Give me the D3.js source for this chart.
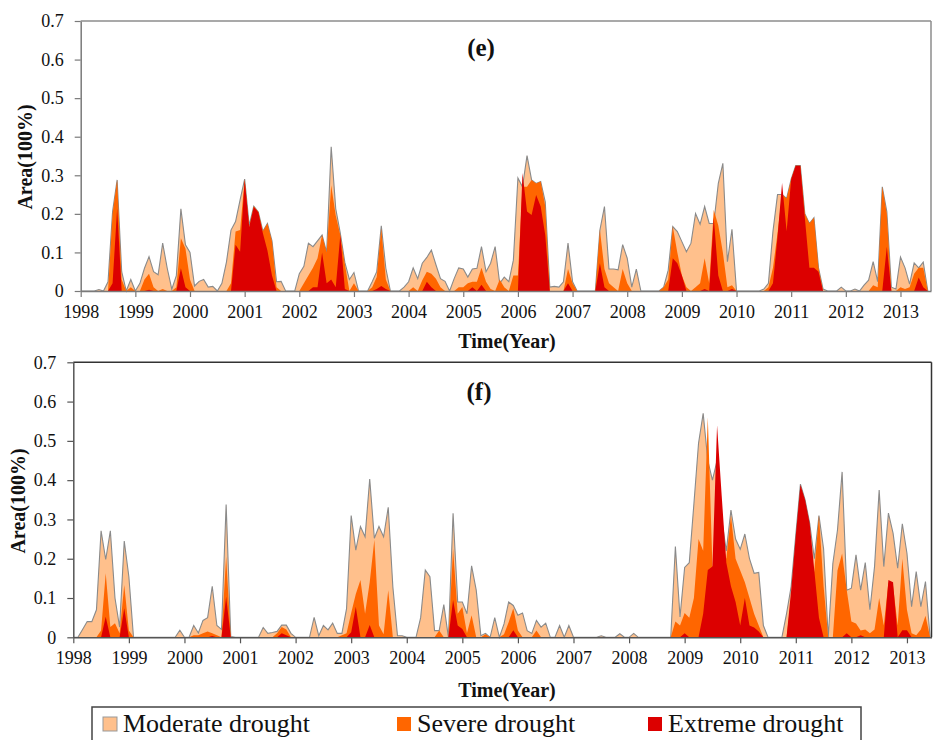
<!DOCTYPE html>
<html>
<head>
<meta charset="utf-8">
<script src="https://cdn.jsdelivr.net/npm/d3@7"></script>
<style>
  body { margin: 0; background: #fff; }
  svg { display: block; }
  svg text { font-family: "Liberation Serif", "Times New Roman", serif !important; fill: #111; }
</style>
</head>
<body>
<svg id="chart" width="933" height="740"></svg>
<script>
// Year ticks and area ticks shared by both panels
const yearTicks = d3.range(1998, 2014);
const areaTicks = [0, 0.1, 0.2, 0.3, 0.4, 0.5, 0.6, 0.7];
const seriesNames = ["Moderate drought", "Severe drought", "Extreme drought"];
const seriesColors = ["#FFC08C", "#FF6600", "#DC0000"];

// Panel (e): monthly drought area fraction, Jan 1998 onwards (one row per year)
const moderateE = [
  0, 0, 0, 0, 0.004, 0, 0.024, 0.206, 0.288, 0.05, 0, 0.03,
  0, 0.02, 0.059, 0.089, 0.05, 0.042, 0.124, 0.059, 0.005, 0.04, 0.213, 0.12,
  0.10, 0.013, 0.025, 0.03, 0.01, 0.012, 0, 0.02, 0.075, 0.158, 0.18, 0.236,
  0.29, 0.17, 0.22, 0.205, 0.155, 0.175, 0.13, 0.024, 0.025, 0, 0, 0,
  0.045, 0.064, 0.124, 0.115, 0.13, 0.145, 0.10, 0.374, 0.213, 0.15, 0.074, 0.03,
  0.048, 0, 0, 0, 0.024, 0.05, 0.169, 0.059, 0, 0, 0, 0.01,
  0.024, 0.06, 0.032, 0.072, 0.087, 0.106, 0.068, 0.032, 0.025, 0, 0.032, 0.06,
  0.057, 0.036, 0.057, 0.059, 0.115, 0.05, 0.072, 0.115, 0.02, 0.036, 0.024, 0.08,
  0.293, 0.27, 0.351, 0.288, 0.279, 0.284, 0.231, 0.01, 0.012, 0.01, 0.024, 0.124,
  0.024, 0, 0, 0, 0, 0, 0.158, 0.219, 0.057, 0.057, 0.055, 0.12,
  0.085, 0.01, 0.057, 0, 0, 0, 0, 0, 0.01, 0.054, 0.167, 0.154,
  0.128, 0.102, 0.124, 0.201, 0.173, 0.219, 0.175, 0.175, 0.279, 0.331, 0.076, 0.16,
  0, 0, 0, 0, 0, 0, 0.005, 0.02, 0.155, 0.25, 0.25, 0.24,
  0.29, 0.325, 0.325, 0.2, 0.175, 0.19, 0.06, 0.005, 0, 0, 0, 0.01,
  0, 0, 0.005, 0, 0.015, 0.028, 0.076, 0.024, 0.27, 0.206, 0.01, 0.005,
  0.088, 0.06, 0.018, 0.073, 0.06, 0.075, 0
];
const severeE = [
  0, 0, 0, 0, 0, 0, 0, 0.2, 0.288, 0.03, 0, 0.01,
  0, 0, 0.03, 0.045, 0.01, 0, 0.005, 0, 0, 0.01, 0.137, 0.11,
  0.03, 0, 0, 0, 0, 0, 0, 0, 0, 0.02, 0.154, 0.158,
  0.29, 0.165, 0.22, 0.205, 0.155, 0.175, 0.129, 0.01, 0, 0, 0, 0,
  0, 0.02, 0.04, 0.06, 0.085, 0.145, 0.10, 0.274, 0.196, 0.145, 0.07, 0,
  0.02, 0, 0, 0, 0.01, 0.036, 0.162, 0.03, 0, 0, 0, 0,
  0, 0.01, 0, 0.028, 0.05, 0.045, 0.032, 0.01, 0, 0, 0, 0.01,
  0.01, 0.02, 0.024, 0.024, 0.06, 0.024, 0.005, 0, 0.03, 0.01, 0, 0.04,
  0.04, 0.27, 0.27, 0.288, 0.279, 0.284, 0.22, 0, 0, 0, 0, 0.057,
  0.02, 0, 0, 0, 0, 0, 0.158, 0.057, 0.02, 0.01, 0, 0.057,
  0.02, 0, 0, 0, 0, 0, 0, 0, 0.01, 0.03, 0.167, 0.1,
  0.04, 0.01, 0, 0.01, 0.02, 0.085, 0.02, 0.21, 0.17, 0.1, 0.01, 0.015,
  0, 0, 0, 0, 0, 0, 0, 0.01, 0.06, 0.15, 0.25, 0.24,
  0.29, 0.325, 0.325, 0.2, 0.175, 0.19, 0.06, 0, 0, 0, 0, 0,
  0, 0, 0, 0, 0, 0, 0.015, 0.01, 0.27, 0.2, 0, 0,
  0.01, 0.005, 0.01, 0.045, 0.06, 0.06, 0
];
const extremeE = [
  0, 0, 0, 0, 0, 0, 0, 0.02, 0.214, 0, 0, 0,
  0, 0, 0, 0.003, 0, 0, 0, 0, 0, 0, 0.059, 0.01,
  0, 0, 0, 0, 0, 0, 0, 0, 0, 0, 0.12, 0.102,
  0.288, 0.166, 0.218, 0.204, 0.15, 0.105, 0.04, 0, 0, 0, 0, 0,
  0, 0, 0, 0.01, 0.01, 0.10, 0.02, 0.03, 0.01, 0.145, 0.005, 0,
  0, 0, 0, 0, 0, 0.005, 0.013, 0.005, 0, 0, 0, 0,
  0, 0, 0, 0, 0.024, 0.01, 0, 0, 0, 0, 0, 0,
  0, 0, 0.01, 0, 0.016, 0, 0, 0, 0, 0, 0, 0,
  0, 0.306, 0.206, 0.197, 0.249, 0.219, 0.145, 0, 0, 0, 0, 0.02,
  0, 0, 0, 0, 0, 0, 0.072, 0.01, 0, 0, 0, 0,
  0, 0, 0, 0, 0, 0, 0, 0, 0, 0, 0.085, 0.072,
  0.04, 0, 0, 0, 0, 0.005, 0, 0.19, 0.04, 0, 0, 0.005,
  0, 0, 0, 0, 0, 0, 0, 0, 0.02, 0.14, 0.28, 0.155,
  0.29, 0.325, 0.325, 0.19, 0.06, 0.06, 0.05, 0, 0, 0, 0, 0,
  0, 0, 0, 0, 0, 0, 0, 0, 0, 0.115, 0, 0,
  0, 0, 0, 0, 0.035, 0.01, 0
];

// Panel (f): monthly drought area fraction, Jan 1998 onwards (one row per year)
const moderateF = [
  0, 0, 0.02, 0.04, 0.04, 0.07, 0.271, 0.198, 0.271, 0.10, 0.026, 0.245,
  0.154, 0, 0, 0, 0, 0, 0, 0, 0, 0, 0, 0.018,
  0, 0, 0.03, 0.011, 0.043, 0.05, 0.13, 0.03, 0.02, 0.338, 0.002, 0,
  0, 0, 0, 0, 0, 0.025, 0.01, 0.012, 0.015, 0.031, 0.031, 0.01,
  0, 0, 0, 0, 0.051, 0.004, 0.03, 0.019, 0.036, 0.01, 0.01, 0.073,
  0.31, 0.222, 0.282, 0.256, 0.403, 0.252, 0.282, 0.256, 0.331, 0.128, 0.004, 0.004,
  0, 0, 0, 0.05, 0.171, 0.154, 0.017, 0.017, 0.083, 0, 0.316, 0.09,
  0.09, 0.06, 0.182, 0.12, 0.004, 0.01, 0, 0.05, 0, 0.034, 0.09, 0.081,
  0.056, 0.062, 0.017, 0.01, 0.043, 0.026, 0.036, 0, 0, 0.03, 0, 0.03,
  0, 0, 0, 0, 0, 0, 0.004, 0, 0, 0, 0.009, 0,
  0, 0.01, 0, 0, 0, 0, 0, 0, 0, 0, 0.231, 0.052,
  0.178, 0.19, 0.34, 0.494, 0.57, 0.45, 0.4, 0.45, 0.3, 0.22, 0.324, 0.25,
  0.224, 0.263, 0.2, 0.163, 0.165, 0.03, 0, 0, 0, 0, 0.06, 0.13,
  0.26, 0.39, 0.35, 0.29, 0.2, 0.31, 0.225, 0, 0.188, 0.273, 0.421, 0.12,
  0.125, 0.21, 0.12, 0.19, 0.07, 0.18, 0.375, 0.18, 0.316, 0.265, 0.176, 0.289,
  0.214, 0.078, 0.167, 0.078, 0.142, 0
];
const severeF = [
  0, 0, 0, 0, 0, 0, 0.017, 0.163, 0.026, 0.036, 0.01, 0.133,
  0.017, 0, 0, 0, 0, 0, 0, 0, 0, 0, 0, 0,
  0, 0, 0.005, 0.005, 0.01, 0.015, 0.01, 0.005, 0, 0.205, 0, 0,
  0, 0, 0, 0, 0, 0, 0, 0, 0.01, 0.026, 0.02, 0,
  0, 0, 0, 0, 0, 0, 0, 0, 0, 0, 0.005, 0.01,
  0.062, 0.11, 0.146, 0.06, 0.14, 0.248, 0.03, 0.008, 0.12, 0, 0, 0,
  0, 0, 0, 0, 0, 0, 0, 0.017, 0, 0, 0.225, 0.06,
  0.077, 0.01, 0.056, 0, 0, 0.008, 0, 0, 0, 0.008, 0.038, 0.074,
  0.017, 0, 0, 0, 0.017, 0, 0, 0, 0, 0, 0, 0,
  0, 0, 0, 0, 0, 0, 0, 0, 0, 0, 0, 0,
  0, 0, 0, 0, 0, 0, 0, 0, 0, 0, 0.04, 0.03,
  0.062, 0.05, 0.1, 0.25, 0.22, 0.56, 0.18, 0.2, 0.25, 0.2, 0.31, 0.2,
  0.17, 0.14, 0.1, 0.06, 0.03, 0, 0, 0, 0, 0, 0, 0.1,
  0.1, 0.1, 0.1, 0.1, 0.17, 0.31, 0.13, 0, 0, 0.17, 0.213, 0.12,
  0.04, 0.035, 0.017, 0.02, 0.01, 0.02, 0.1, 0.03, 0.14, 0.13, 0.03, 0.2,
  0.07, 0.01, 0.005, 0.02, 0.055, 0
];
const extremeF = [
  0, 0, 0, 0, 0, 0, 0, 0.052, 0, 0, 0, 0.074,
  0, 0, 0, 0, 0, 0, 0, 0, 0, 0, 0, 0,
  0, 0, 0, 0, 0, 0, 0.003, 0, 0, 0.103, 0, 0,
  0, 0, 0, 0, 0, 0, 0, 0, 0, 0.01, 0.005, 0,
  0, 0, 0, 0, 0, 0, 0, 0, 0, 0, 0, 0,
  0.013, 0.078, 0, 0, 0.031, 0, 0, 0, 0, 0, 0, 0,
  0, 0, 0, 0, 0, 0, 0, 0, 0, 0, 0.095, 0.03,
  0.021, 0, 0, 0, 0, 0, 0, 0, 0, 0, 0, 0.018,
  0, 0, 0, 0, 0, 0, 0, 0, 0, 0, 0, 0,
  0, 0, 0, 0, 0, 0, 0, 0, 0, 0, 0, 0,
  0, 0, 0, 0, 0, 0, 0, 0, 0, 0, 0, 0,
  0.01, 0, 0, 0, 0.06, 0.171, 0.18, 0.54, 0.36, 0.19, 0.13, 0.09,
  0.03, 0.1, 0.03, 0.025, 0.015, 0, 0, 0, 0, 0, 0, 0.12,
  0.26, 0.388, 0.35, 0.29, 0.17, 0.05, 0, 0, 0, 0, 0, 0.01,
  0, 0, 0.005, 0, 0, 0, 0, 0, 0.146, 0.14, 0, 0.018,
  0.018, 0, 0, 0, 0, 0
];

const serif = '"Liberation Serif", "Times New Roman", serif';
const svg = d3.select("#chart");

const panels = [
  { label: "(e)", series: [moderateE, severeE, extremeE],
    left: 80.7, right: 931, top: 21, bottom: 291, endMonth: 186.7,
    frame: "#8c8c8c", axisColor: "#7a7a7a",
    labelX: 481, labelY: 56, yTitleX: 25, yTitleY: 157, xTitleY: 348 },
  { label: "(f)", series: [moderateF, severeF, extremeF],
    left: 73.3, right: 931.5, top: 362.3, bottom: 637.3, endMonth: 185.3,
    frame: "#333", axisColor: "#555",
    labelX: 479, labelY: 400, yTitleX: 18, yTitleY: 501, xTitleY: 697 }
];

panels.forEach(p => {
  const x = d3.scaleLinear()
    .domain([1998, 1998 + p.endMonth / 12])
    .range([p.left, p.right]);
  const y = d3.scaleLinear().domain([0, 0.7]).range([p.bottom, p.top]);
  const g = svg.append("g");

  const monthX = (d, i) => x(1998 + i / 12);
  const area = d3.area().x(monthX).y0(y(0)).y1(d => y(d));
  const topLine = d3.line().x(monthX).y(d => y(d));

  // moderate envelope, its grey outline, then severe and extreme on top
  p.series.forEach((vals, k) => {
    g.append("path").datum(vals)
      .attr("d", area)
      .attr("fill", seriesColors[k]);
    if (k === 0) {
      g.append("path").datum(vals)
        .attr("d", topLine)
        .attr("fill", "none")
        .attr("stroke", "#8a8a8a")
        .attr("stroke-width", 1.1);
    }
  });

  // frame on top and right
  g.append("line")
    .attr("x1", p.left).attr("x2", p.right)
    .attr("y1", p.top).attr("y2", p.top)
    .attr("stroke", p.frame).attr("stroke-width", 1.5);
  g.append("line")
    .attr("x1", p.right).attr("x2", p.right)
    .attr("y1", p.top).attr("y2", p.bottom)
    .attr("stroke", p.frame).attr("stroke-width", 1.5);

  // axes
  const xAxis = g.append("g")
    .attr("transform", `translate(0,${p.bottom})`)
    .call(d3.axisBottom(x).tickValues(yearTicks)
      .tickFormat(d3.format("d")).tickSize(6).tickSizeOuter(0).tickPadding(8));
  const yAxis = g.append("g")
    .attr("transform", `translate(${p.left},0)`)
    .call(d3.axisLeft(y).tickValues(areaTicks)
      .tickFormat(d => d === 0 ? "0" : d3.format(".1f")(d))
      .tickSize(6).tickSizeOuter(0).tickPadding(11));
  [xAxis, yAxis].forEach(a => {
    a.attr("font-family", serif);
    a.select(".domain").attr("stroke", p.axisColor).attr("stroke-width", 1.5);
    a.selectAll(".tick line").attr("stroke", p.axisColor).attr("stroke-width", 1.2);
    a.selectAll(".tick text")
      .style("font-family", serif)
      .attr("font-size", 18).attr("fill", "#111");
  });

  // titles
  g.append("text")
    .attr("x", p.labelX).attr("y", p.labelY)
    .attr("text-anchor", "middle")
    .attr("font-size", 25).attr("font-weight", "bold")
    .text(p.label);
  g.append("text")
    .attr("x", 507).attr("y", p.xTitleY)
    .attr("text-anchor", "middle")
    .attr("font-size", 20).attr("font-weight", "bold")
    .text("Time(Year)");
  g.append("text")
    .attr("transform", `translate(${p.yTitleX},${p.yTitleY}) rotate(-90)`)
    .attr("text-anchor", "middle")
    .attr("dy", "0.35em")
    .attr("font-size", 20).attr("font-weight", "bold")
    .text("Area(100%)");
});

// legend
const legend = svg.append("g");
legend.append("rect")
  .attr("x", 92).attr("y", 707).attr("width", 769).attr("height", 45)
  .attr("fill", "#fff").attr("stroke", "#444").attr("stroke-width", 1.5);
const legendX = [103, 397, 648];
seriesNames.forEach((name, k) => {
  legend.append("rect")
    .attr("x", legendX[k]).attr("y", 717).attr("width", 14).attr("height", 14)
    .attr("fill", seriesColors[k])
    .attr("stroke", k === 0 ? "#999" : "none");
  legend.append("text")
    .attr("x", legendX[k] + 20).attr("y", 732)
    .attr("font-size", 26)
    .text(name);
});
</script>
</body>
</html>
